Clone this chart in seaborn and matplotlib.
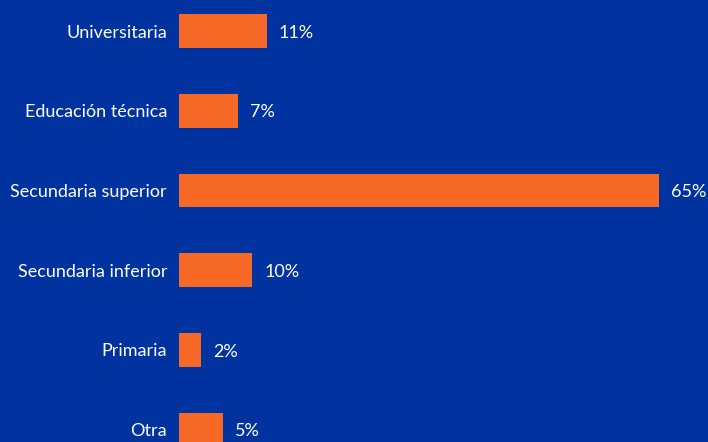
import matplotlib
matplotlib.use("Agg")
import matplotlib.pyplot as plt
import seaborn as sns
import pandas as pd

categories = ["Universitaria", "Educación técnica", "Secundaria superior",
              "Secundaria inferior", "Primaria", "Otra"]
values = [11.9, 8.0, 65.0, 9.9, 3.0, 6.0]
value_labels = ["11%", "7%", "65%", "10%", "2%", "5%"]

BG = "#0033A0"
BAR = "#F56826"

sns.set_theme(style="white")
plt.rcParams['font.family'] = ['Lato', 'DejaVu Sans']

df = pd.DataFrame({"cat": categories, "val": values})

fig = plt.figure(figsize=(7.08, 4.42), dpi=100)
fig.patch.set_facecolor(BG)
ax = fig.add_axes([179/708, 0, 1 - 179/708, 1])
ax.set_facecolor(BG)

sns.barplot(data=df, x="val", y="cat", orient="h", color=BAR, width=0.426,
            saturation=1, linewidth=0, edgecolor="none", ax=ax)

ax.set_xlim(0, 65 * 529 / 480)
ax.set_ylim(5.154, -0.389)
for s in ax.spines.values():
    s.set_visible(False)
ax.set_xticks([])
ax.set_xlabel("")
ax.set_ylabel("")
ax.tick_params(axis="y", length=0, pad=8.6, labelsize=13, labelcolor="white")
for t in ax.get_yticklabels():
    t.set_y(t.get_position()[1])

px = 71.64 / 529
for i, (v, lab) in enumerate(zip(values, value_labels)):
    ax.text(v + 12 * px, i + 0.02, lab, va="center", ha="left", color="white", fontsize=13)

fig.savefig("out.png", dpi=100, facecolor=BG)
